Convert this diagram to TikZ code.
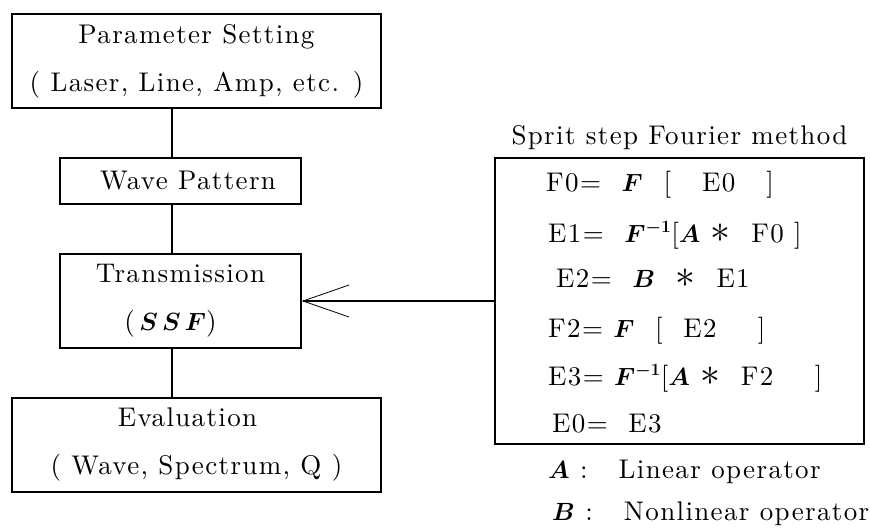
\documentclass[tikz,border=0pt]{standalone}
\usepackage{fontspec}
\setmainfont{lmroman10-regular.otf}[LetterSpace=5]
\usepackage{bm}
\usetikzlibrary{arrows.meta}

\newcommand{\opstar}{\scalebox{1.6}{$*$}}

\tikzset{
  block/.style={draw, line width=1.6pt, align=center, inner sep=0pt},
  eqline/.style={anchor=base west, inner sep=0pt},
  link/.style={line width=1.6pt},
}

\begin{document}
\begin{tikzpicture}[x=1pt,y=-1pt,font=\fontsize{27}{48}\selectfont]
\useasboundingbox (0,0) rectangle (870,532);
\coordinate (spine) at (172,0);
% flow of the simulation
\node[block, minimum width=369pt, minimum height=94pt] (param) at (196.5,61) {Parameter Setting\\( Laser, Line, Amp, etc. )};
\node[block, minimum width=241pt, minimum height=46pt] (wave) at (180.5,181) {\hspace*{15pt}Wave Pattern};
\node[block, minimum width=241pt, minimum height=94pt] (trans) at (180.5,301) {Transmission\\(\,$\bm{S}\,\bm{S}\,\bm{F}$)\hspace*{20pt}};
\node[block, minimum width=369pt, minimum height=94pt] (eval) at (196.5,445) {Evaluation\hspace*{18pt}\\( Wave, Spectrum, Q )};
\foreach \a/\b in {param/wave,wave/trans,trans/eval}
  \draw[link] (\a.south -| spine) -- (\b.north -| spine);
% split step loop
\node[anchor=base] (title) at (679.5,145) {Sprit step Fourier method};
\node[block, minimum width=369pt, minimum height=286pt] (ssf) at (679.5,301) {};
\node[eqline] (f0) at (546,191) {F0=\ \ $\bm{F}$\ \ [\ \ \ E0\ \ \ ]};
\node[eqline] (e1) at (548,242) {E1=\ \ $\bm{F^{-1}}$[$\bm{A}$\ \opstar\ \ F0\ ]};
\node[eqline] (e2) at (556,287) {E2=\ \ $\bm{B}$\ \ \opstar\ \ E1};
\node[eqline] (f2) at (548,337) {F2=\ $\bm{F}$\ \ [\ \ E2\ \ \ \ ]};
\node[eqline] (e3) at (548,385) {E3=\ $\bm{F^{-1}}$[$\bm{A}$\ \opstar\ \ F2\ \ \ \ ]};
\node[eqline] (e0) at (552,432) {E0=\ \ E3};
\node[eqline] (lin) at (548,478) {$\bm{A}$\ :\ \ \ Linear operator};
\node[eqline] (nonlin) at (552,520) {$\bm{B}$\ :\ \ \ Nonlinear operator};
\draw[link, -{Straight Barb[length=46pt,width=32pt,line width=0.8pt]}] (ssf.west) -- (trans.east);
\end{tikzpicture}
\end{document}
